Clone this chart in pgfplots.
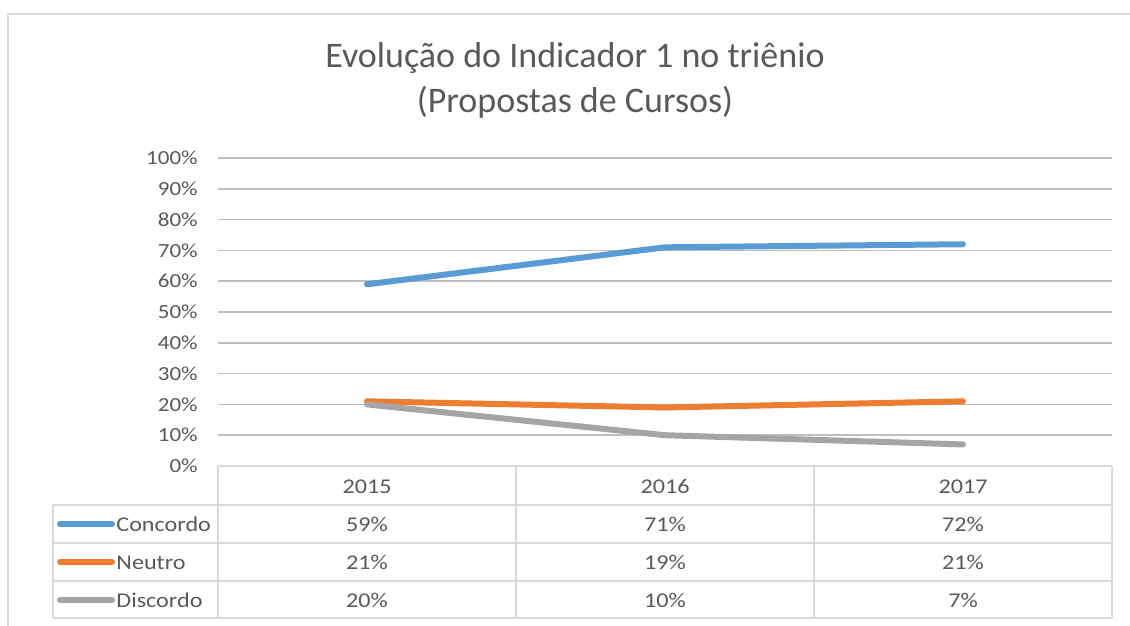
\documentclass[border=0pt]{standalone}
\usepackage{pgfplots}
\pgfplotsset{compat=1.18}
\usepackage{fontspec}
\setmainfont{Carlito}
\newfontfamily\smallf[FakeStretch=1.15]{Carlito}
\definecolor{cblue}{HTML}{5B9BD5}
\definecolor{corange}{HTML}{ED7D31}
\definecolor{cgray}{HTML}{A5A5A5}
\definecolor{txt}{HTML}{595959}
\definecolor{grid}{HTML}{D9D9D9}
\begin{document}
\begin{tikzpicture}
\begin{scope}[x=0.5pt,y=-0.5pt]
\useasboundingbox (0,0) rectangle (1130,626);
\draw[grid,line width=1pt] (8,640) -- (8,14) -- (1140,14);
\node[anchor=base,text=txt,font=\fontsize{18}{20}\selectfont] at (575,68) {Evolução do Indicador 1 no triênio};
\node[anchor=base,text=txt,font=\fontsize{18}{20}\selectfont] at (575,113) {(Propostas de Cursos)};
\end{scope}
\begin{axis}[
  at={(109pt,-233pt)}, anchor=south west,
  scale only axis, width=447pt, height=154pt,
  xmin=2014.5, xmax=2017.5, ymin=0, ymax=100,
  axis line style={draw=none},
  xtick=\empty,
  ytick={0,10,...,100},
  yticklabels={0\%,10\%,20\%,30\%,40\%,50\%,60\%,70\%,80\%,90\%,100\%},
  yticklabel style={font=\smallf\fontsize{10}{12}\selectfont, text=txt, anchor=east, inner sep=0pt, xshift=-10pt},
  major tick length=0pt,
  ymajorgrids, grid style={grid, line width=0.8pt},
  clip=false,
]
\addplot[cblue, line width=3pt, line cap=round] coordinates {(2015,59) (2016,71) (2017,72)};
\addplot[corange, line width=3pt, line cap=round] coordinates {(2015,21) (2016,19) (2017,21)};
\addplot[cgray, line width=3pt, line cap=round] coordinates {(2015,20) (2016,10) (2017,7)};
\end{axis}
\begin{scope}[x=0.5pt,y=-0.5pt]
\draw[grid,line width=0.8pt] (218,466) -- (1112,466);
\foreach \yy in {505,543,581,618} \draw[grid,line width=0.8pt] (53,\yy) -- (1112,\yy);
\draw[grid,line width=0.8pt] (53,505) -- (53,618);
\foreach \xx in {218,516,814,1112} \draw[grid,line width=0.8pt] (\xx,466) -- (\xx,618);
\draw[cblue,line width=3pt,line cap=round] (60,524) -- (112,524);
\draw[corange,line width=3pt,line cap=round] (60,562) -- (112,562);
\draw[cgray,line width=3pt,line cap=round] (60,600) -- (112,600);
\tikzset{tt/.style={text=txt,font=\smallf\fontsize{10.5}{12}\selectfont,inner sep=0pt,anchor=base}}
\node[tt,anchor=base west] at (116,531) {Concordo};
\node[tt,anchor=base west] at (116,569) {Neutro};
\node[tt,anchor=base west] at (116,607) {Discordo};
\node[tt] at (367,493) {2015};
\node[tt] at (665,493) {2016};
\node[tt] at (963,493) {2017};
\node[tt] at (367,531) {59\%};
\node[tt] at (665,531) {71\%};
\node[tt] at (963,531) {72\%};
\node[tt] at (367,569) {21\%};
\node[tt] at (665,569) {19\%};
\node[tt] at (963,569) {21\%};
\node[tt] at (367,607) {20\%};
\node[tt] at (665,607) {10\%};
\node[tt] at (963,607) {7\%};
\end{scope}
\end{tikzpicture}
\end{document}
